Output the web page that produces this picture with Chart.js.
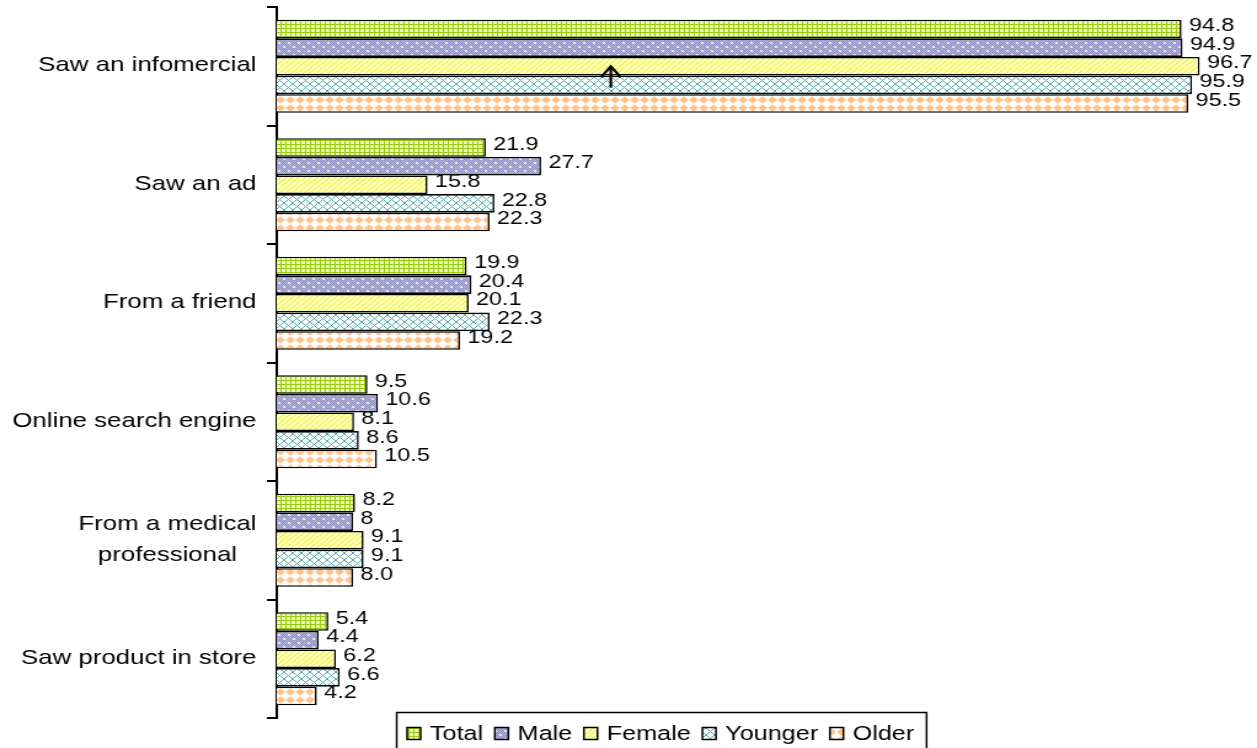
<!DOCTYPE html>
<html>
<head>
<meta charset="utf-8">
<title>How respondents heard about the product</title>
<script src="https://cdn.jsdelivr.net/npm/chart.js@4.4.1/dist/chart.umd.min.js"></script>
<style>
  html, body { margin: 0; padding: 0; background: #fff; overflow: hidden; }
  /* the chart is laid out narrow and widened horizontally, giving the wide letterforms */
  #wrap { position: absolute; left: 0; top: 0; width: 1022px; height: 748px;
          transform: scaleX(1.22994); transform-origin: 0 0; }
</style>
</head>
<body>
<div id="wrap"><canvas id="chart"></canvas></div>
<script>
// Categories (top to bottom) and series values, in percent
const categories = ['Saw an infomercial', 'Saw an ad', 'From a friend', 'Online search engine',
                    ['From a medical', 'professional'], 'Saw product in store'];
const seriesNames = ['Total', 'Male', 'Female', 'Younger', 'Older'];
const total   = [94.8, 21.9, 19.9, 9.5, 8.2, 5.4];
const male    = [94.9, 27.7, 20.4, 10.6, 8, 4.4];
const female  = [96.7, 15.8, 20.1, 8.1, 9.1, 6.2];
const younger = [95.9, 22.8, 22.3, 8.6, 9.1, 6.6];
const older   = [95.5, 22.3, 19.2, 10.5, 8.0, 4.2];
// digits shown in the value labels (null = as recorded)
const labelDecimals = [1, null, 1, 1, 1];
const xMin = 0, xMax = 100;

const FONT = "'Liberation Sans', Arial, Helvetica, sans-serif";

function makePattern(w, h, paint) {
  const c = document.createElement('canvas');
  c.width = w; c.height = h;
  const g = c.getContext('2d');
  paint(g, w, h);
  return g.createPattern(c, 'repeat');
}

// fill textures for each series
const fills = [
  // Total: green grid
  makePattern(4, 4, (g, w, h) => {
    g.fillStyle = '#eaf6c4'; g.fillRect(0, 0, w, h);
    g.fillStyle = '#9acb0c'; g.fillRect(0, 0, 1, h); g.fillRect(0, 0, w, 1);
  }),
  // Male: lavender stipple
  makePattern(8, 8, (g, w, h) => {
    for (let y = 0; y < h; y++) for (let x = 0; x < w; x++) {
      g.fillStyle = ((x + y) % 2 === 0) ? '#8e8ec2' : '#b6b6da';
      g.fillRect(x, y, 1, 1);
    }
    g.fillStyle = '#e6e6f4'; g.fillRect(2, 2, 2, 2); g.fillRect(6, 6, 2, 2);
  }),
  // Female: yellow diagonal stripes
  makePattern(5, 5, (g, w, h) => {
    g.fillStyle = '#ffffbc'; g.fillRect(0, 0, w, h);
    for (let y = 0; y < h; y++) {
      const x = h - 1 - y;
      g.fillStyle = '#f0f04e'; g.fillRect(x, y, 1, 1);
      g.fillStyle = '#fafa84'; g.fillRect((x + 1) % w, y, 1, 1);
    }
  }),
  // Younger: teal lattice
  makePattern(7, 7, (g, w, h) => {
    g.fillStyle = '#ffffff'; g.fillRect(0, 0, w, h);
    g.fillStyle = '#55adad';
    for (let i = 0; i < w; i++) { g.fillRect(i, i, 1, 1); g.fillRect(i, h - 1 - i, 1, 1); }
  }),
  // Older: peach diamonds
  makePattern(8, 8, (g, w, h) => {
    g.fillStyle = '#ffffff'; g.fillRect(0, 0, w, h);
    g.fillStyle = '#ffc48c';
    g.beginPath(); g.moveTo(4, 0.2); g.lineTo(7.8, 4); g.lineTo(4, 7.8); g.lineTo(0.2, 4); g.closePath(); g.fill();
  })
];

const seriesValues = [total, male, female, younger, older];

const datasets = seriesNames.map((name, i) => ({
  label: name,
  data: seriesValues[i],
  backgroundColor: fills[i],
  borderColor: '#000',
  borderWidth: 1.6,
  borderSkipped: 'start'
}));

function valueText(v, d) { return d === null ? String(v) : v.toFixed(d); }

const decorations = {
  id: 'decorations',
  afterDatasetsDraw(chart) {
    const ctx = chart.ctx;
    ctx.save();
    ctx.fillStyle = '#000';
    ctx.font = '19px ' + FONT;
    ctx.textAlign = 'left';
    ctx.textBaseline = 'middle';
    chart.data.datasets.forEach((ds, di) => {
      chart.getDatasetMeta(di).data.forEach((bar, i) => {
        ctx.fillText(valueText(ds.data[i], labelDecimals[di]), bar.x + 6, bar.y - 3);
      });
    });

    // small upward arrow drawn across the first group
    const fBar = chart.getDatasetMeta(2).data[0];
    const yBar = chart.getDatasetMeta(3).data[0];
    const ax = chart.scales.x.getPixelForValue(35);
    const tip = fBar.y, bottom = yBar.y + 3;
    ctx.strokeStyle = '#000';
    ctx.lineWidth = 2.2;
    ctx.beginPath();
    ctx.moveTo(ax, tip + 1); ctx.lineTo(ax, bottom);
    ctx.moveTo(ax - 8, tip + 11); ctx.lineTo(ax, tip); ctx.lineTo(ax + 8, tip + 11);
    ctx.stroke();
    ctx.restore();
  },
  afterDraw(chart) {
    const ctx = chart.ctx;
    const area = chart.chartArea;
    const yScale = chart.scales.y;
    ctx.save();
    ctx.fillStyle = '#000';

    // category labels, right aligned; multi-line labels centred on each other
    ctx.font = '21px ' + FONT;
    ctx.textBaseline = 'middle';
    ctx.textAlign = 'center';
    chart.data.labels.forEach((lab, i) => {
      const lines = Array.isArray(lab) ? lab : [lab];
      const widest = Math.max(...lines.map(l => ctx.measureText(l).width));
      const cx = area.left - 16.5 - widest / 2;
      const cy = yScale.getPixelForValue(i);
      const lh = 31;
      lines.forEach((l, k) => {
        ctx.fillText(l, cx, cy + (k - (lines.length - 1) / 2) * lh - 1);
      });
    });

    // legend box
    ctx.font = '20.5px ' + FONT;
    ctx.textAlign = 'left';
    const boxLeft = 322.5, boxTop = 712.5;
    let x = boxLeft + 8.5;
    const items = [];
    chart.data.datasets.forEach((ds) => {
      const tw = ctx.measureText(ds.label).width;
      items.push({ x, label: ds.label, fill: ds.backgroundColor });
      x += 18.5 + tw + 9.5;
    });
    const boxRight = x - 9.5 + 10;
    ctx.fillStyle = '#fff';
    ctx.fillRect(boxLeft, boxTop, boxRight - boxLeft, 60);
    ctx.strokeStyle = '#000';
    ctx.lineWidth = 1.5;
    ctx.strokeRect(boxLeft, boxTop, boxRight - boxLeft, 60);
    const my = 733.5;
    items.forEach(it => {
      ctx.fillStyle = it.fill;
      ctx.fillRect(it.x, my - 6, 11, 12);
      ctx.strokeStyle = '#000';
      ctx.lineWidth = 1.5;
      ctx.strokeRect(it.x, my - 6, 11, 12);
      ctx.fillStyle = '#000';
      ctx.fillText(it.label, it.x + 18.5, my + 0.5);
    });
    ctx.restore();
  }
};

new Chart(document.getElementById('chart'), {
  type: 'bar',
  data: { labels: categories, datasets },
  options: {
    indexAxis: 'y',
    responsive: true,
    maintainAspectRatio: false,
    animation: false,
    layout: { padding: { top: 7, bottom: 30, right: 21, left: 0 } },
    datasets: { bar: { categoryPercentage: 0.785, barPercentage: 1.0 } },
    plugins: { legend: { display: false }, tooltip: { enabled: false } },
    scales: {
      x: { display: false, min: xMin, max: xMax },
      y: {
        afterFit(scale) { scale.width = 225; },
        border: { display: true, color: '#000', width: 2 },
        grid: { display: true, offset: true, drawOnChartArea: false, drawTicks: true,
                tickLength: 8, color: '#000', lineWidth: 2 },
        ticks: { display: false }
      }
    }
  },
  plugins: [decorations]
});
</script>
</body>
</html>
